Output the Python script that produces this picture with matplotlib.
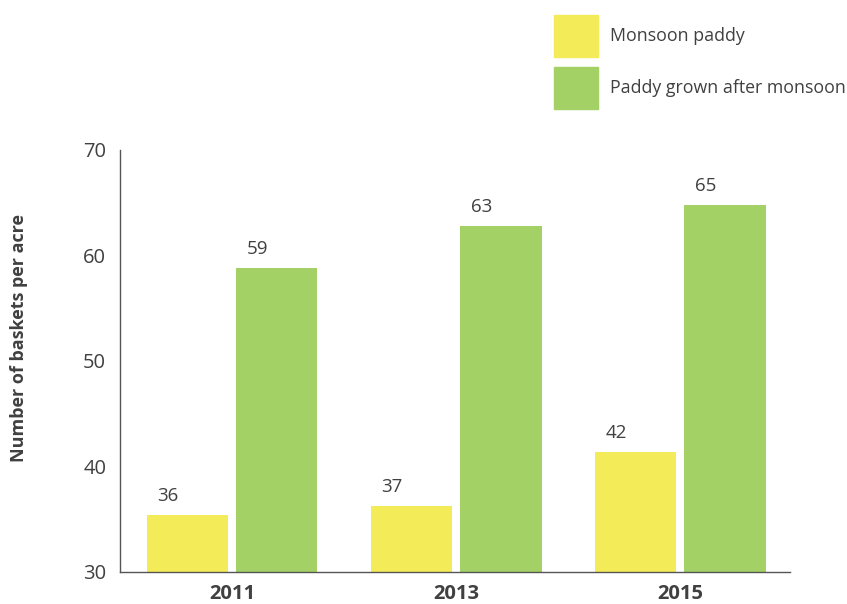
import matplotlib.pyplot as plt
from matplotlib.patches import Patch

years = ['2011', '2013', '2015']
monsoon = [35.4, 36.3, 41.4]
after_monsoon = [58.8, 62.8, 64.8]
monsoon_labels = ['36', '37', '42']
after_labels = ['59', '63', '65']

YELLOW = '#F3EC58'
GREEN = '#A3D165'
TEXT = '#404040'

plt.rcParams['font.family'] = ['Open Sans', 'DejaVu Sans']

fig = plt.figure(figsize=(8.47, 6.04), dpi=100)
ax = fig.add_axes([0.1417, 0.053, 0.7910, 0.6987])

x = list(range(len(years)))
w = 0.362
off = 0.2
ax.bar([i - off for i in x], monsoon, width=w, color=YELLOW)
ax.bar([i + off for i in x], after_monsoon, width=w, color=GREEN)

for i in x:
    ax.annotate(monsoon_labels[i], (i - off, monsoon[i]), xytext=(-19, 10),
                textcoords='offset pixels', ha='center', va='bottom',
                fontsize=13.5, color=TEXT)
    ax.annotate(after_labels[i], (i + off, after_monsoon[i]), xytext=(-19, 10),
                textcoords='offset pixels', ha='center', va='bottom',
                fontsize=13.5, color=TEXT)

ax.set_ylim(30, 70)
ax.set_xlim(-0.5, 2.49)
ax.set_yticks([30, 40, 50, 60, 70])
ax.set_xticks(x)
ax.set_xticklabels(years, fontweight='bold')
ax.tick_params(length=0, labelsize=14.5, colors=TEXT, pad=9)
ax.tick_params(axis='y', pad=10)

for s in ['top', 'right']:
    ax.spines[s].set_visible(False)
for s in ['left', 'bottom']:
    ax.spines[s].set_color('#555555')
    ax.spines[s].set_linewidth(1.0)

fig.text(0.022, 0.44, 'Number of baskets per acre', rotation=90, ha='center',
         va='center', fontsize=13, fontweight='bold', color=TEXT)

handles = [Patch(color=YELLOW), Patch(color=GREEN)]
fig.legend(handles, ['Monsoon paddy', 'Paddy grown after monsoon'],
           loc='upper left', bbox_to_anchor=(554 / 847, 1 - 15 / 604),
           frameon=False, borderpad=0, borderaxespad=0, fontsize=12.8,
           handlelength=2.48, handleheight=3.28, labelspacing=0.56,
           handletextpad=0.67, labelcolor=TEXT)

fig.savefig('out.png', dpi=100)
